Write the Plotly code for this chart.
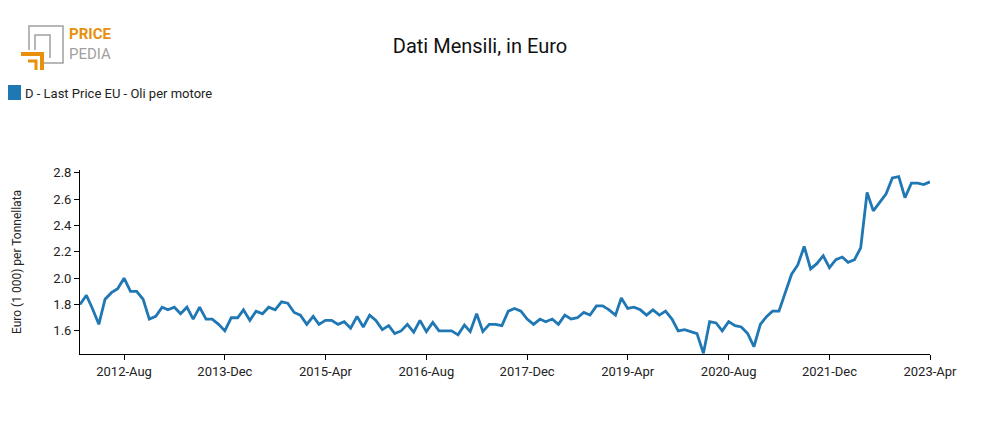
import plotly.graph_objects as go
import pandas as pd

dates = pd.date_range("2012-01-01", "2023-04-01", freq="MS")
values = [
    1.80, 1.87, 1.77, 1.65, 1.84, 1.89, 1.92, 2.00, 1.90, 1.90, 1.84, 1.69,
    1.71, 1.78, 1.76, 1.78, 1.73, 1.78, 1.69, 1.78, 1.69, 1.69, 1.65, 1.60,
    1.70, 1.70, 1.76, 1.68, 1.75, 1.73, 1.78, 1.76, 1.82, 1.81, 1.74, 1.72,
    1.65, 1.71, 1.65, 1.68, 1.68, 1.65, 1.67, 1.62, 1.71, 1.63, 1.72, 1.68,
    1.61, 1.64, 1.58, 1.60, 1.65, 1.59, 1.68, 1.595, 1.665, 1.60, 1.60, 1.60,
    1.57, 1.645, 1.595, 1.73, 1.595, 1.65, 1.65, 1.64, 1.75, 1.77, 1.75, 1.69,
    1.65, 1.69, 1.67, 1.69, 1.65, 1.72, 1.69, 1.70, 1.74, 1.72, 1.79, 1.79,
    1.76, 1.72, 1.85, 1.77, 1.78, 1.76, 1.72, 1.76, 1.72, 1.75, 1.69, 1.60,
    1.61, 1.595, 1.58, 1.43, 1.67, 1.66, 1.60, 1.67, 1.64, 1.63, 1.58, 1.48,
    1.65, 1.71, 1.75, 1.75, 1.89, 2.03, 2.10, 2.24, 2.07, 2.11, 2.17, 2.08,
    2.14, 2.16, 2.12, 2.14, 2.23, 2.65, 2.51, 2.58, 2.64, 2.76, 2.77, 2.61,
    2.72, 2.72, 2.71, 2.73,
]
tick_dates = ["2012-08-01", "2013-12-01", "2015-04-01", "2016-08-01", "2017-12-01",
              "2019-04-01", "2020-08-01", "2021-12-01", "2023-04-01"]
tick_labels = ["2012-Aug", "2013-Dec", "2015-Apr", "2016-Aug", "2017-Dec",
               "2019-Apr", "2020-Aug", "2021-Dec", "2023-Apr"]
y_ticks = [1.6, 1.8, 2.0, 2.2, 2.4, 2.6, 2.8]
series_name = "D - Last Price EU - Oli per motore"

OFF = 8  # page body margin
W, H = 969, 414
L, T = 80 - OFF, 170 - OFF
R = W - (930 - OFF)
B = H - (354 - OFF)
pw, ph = W - L - R, H - T - B
def px(x): return (x - OFF - L) / pw
def py(y): return (H - B - (y - OFF)) / ph

color = "#1f77b4"
fig = go.Figure()
fig.add_trace(go.Scatter(x=dates, y=values, mode="lines", showlegend=False, name=series_name,
                         line=dict(color=color, width=2.8)))

shapes = []
def seg(pts, c, w):
    path = "M " + " L ".join(f"{px(a)},{py(b)}" for a, b in pts)
    shapes.append(dict(type="path", path=path, xref="paper", yref="paper",
                       line=dict(color=c, width=w)))
grey = "#a0a0a0"; orange = "#e8900a"
seg([(44, 63), (63, 63), (63, 26), (29, 26), (29, 50)], grey, 1.5)
seg([(35, 50), (35, 35), (50, 35), (50, 58)], grey, 1.5)
seg([(21, 54), (42, 54), (42, 70)], orange, 4)
seg([(28, 61), (36, 61), (36, 70)], orange, 3)
shapes.append(dict(type="rect", xref="paper", yref="paper", x0=px(8), x1=px(21),
                   y0=py(100), y1=py(85), fillcolor=color, line=dict(width=0)))
fig.update_layout(shapes=shapes)

fig.add_annotation(x=px(23), y=py(93), xref="paper", yref="paper", text=series_name,
                   showarrow=False, xanchor="left", yanchor="middle",
                   font=dict(family="Roboto", size=13, color="#222"))
fig.add_annotation(x=px(67), y=py(34), xref="paper", yref="paper", text="<b>PRICE</b>",
                   showarrow=False, xanchor="left", yanchor="middle",
                   font=dict(family="Roboto", size=15, color=orange))
fig.add_annotation(x=px(67), y=py(54), xref="paper", yref="paper", text="PEDIA",
                   showarrow=False, xanchor="left", yanchor="middle",
                   font=dict(family="Roboto", size=15, color=grey))
fig.add_annotation(x=px(17), y=py(262), xref="paper", yref="paper",
                   text="Euro (1 000) per Tonnellata", textangle=-90, showarrow=False,
                   xanchor="center", yanchor="middle", font=dict(family="Roboto", size=12, color="#222"))

fig.update_layout(
    width=W, height=H,
    margin=dict(l=L, r=R, t=T, b=B, autoexpand=False),
    paper_bgcolor="white", plot_bgcolor="white",
    font=dict(family="Roboto", size=12, color="#222"),
    title=dict(text="Dati Mensili, in Euro", x=(480 - OFF) / W, xanchor="center",
               y=1 - (46 - OFF) / H, yanchor="middle",
               font=dict(family="Roboto", size=20, color="#111")),
    showlegend=False,
    xaxis=dict(range=["2012-01-01", "2023-04-01"], tickvals=tick_dates, ticktext=tick_labels,
               showgrid=False, showline=True, linecolor="black", ticks="outside",
               ticklen=5, tickcolor="black", zeroline=False, tickfont=dict(size=13),
               automargin=False),
    yaxis=dict(range=[1.425, 2.82], tickvals=y_ticks, tickformat=".1f", showgrid=False,
               showline=True, linecolor="black", ticks="outside", ticklen=5,
               tickcolor="black", zeroline=False, tickfont=dict(size=13), automargin=False),
)
fig.write_html("out.html")
